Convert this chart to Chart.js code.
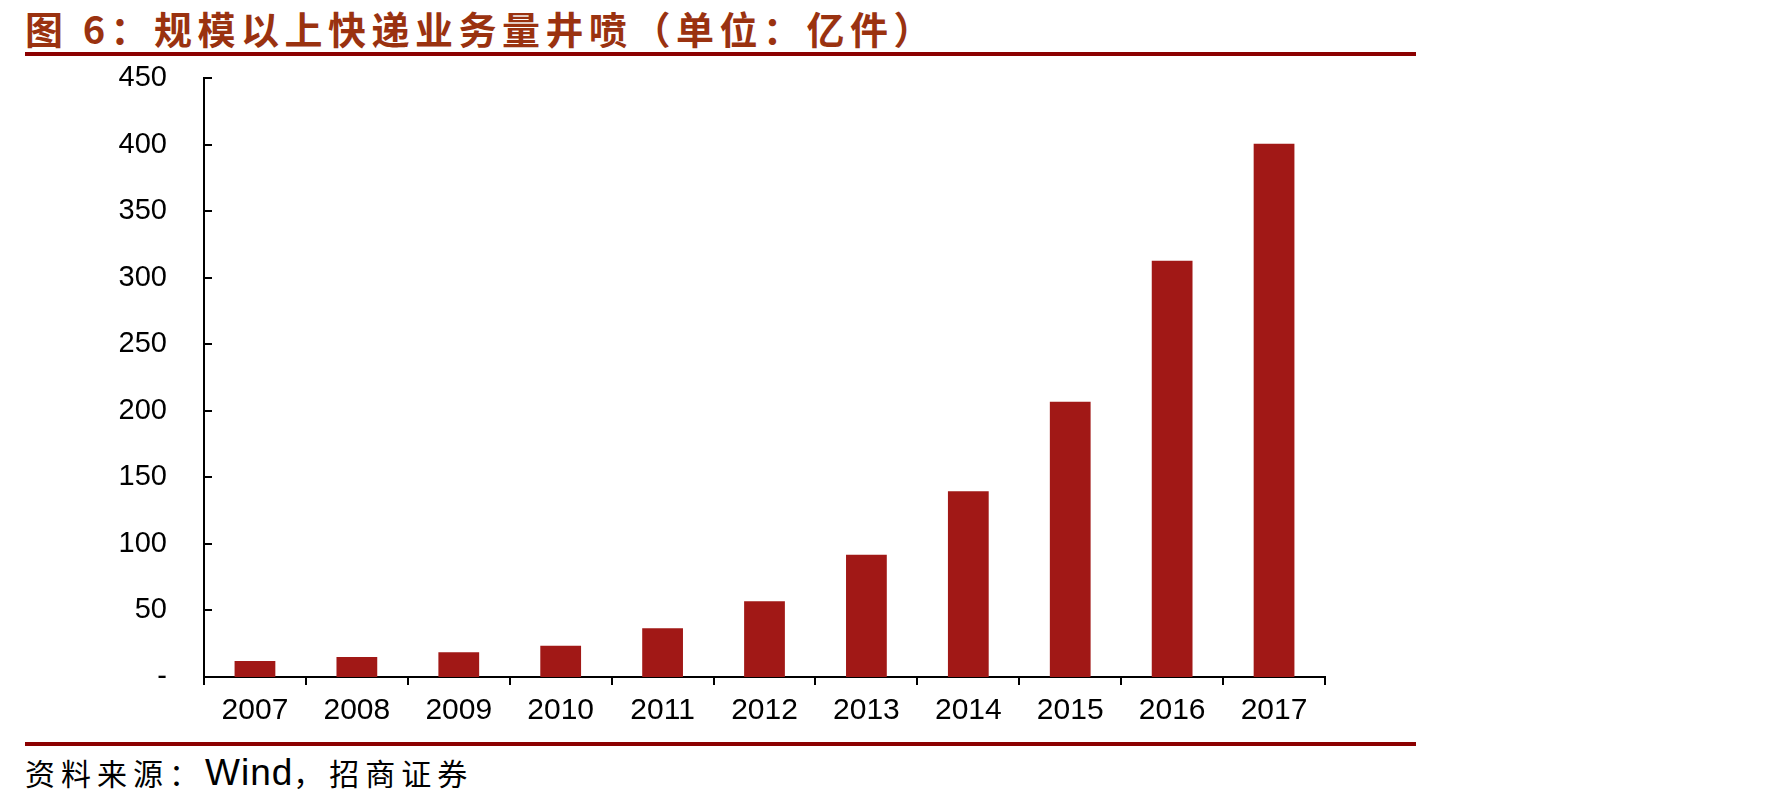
<!DOCTYPE html>
<html>
<head>
<meta charset="utf-8">
<script src="https://cdn.jsdelivr.net/npm/chart.js@4/dist/chart.umd.min.js"></script>
<style>
  body { margin: 0; background: #fff; }
  #page { position: relative; width: 1779px; height: 806px; overflow: hidden; }
  #title {
    position: absolute; left: 25px; top: 6px;
    font: bold 38px "Noto Sans CJK SC", sans-serif;
    letter-spacing: 5.5px; color: #9a3210; white-space: nowrap; line-height: 44px;
  }
  .rule { position: absolute; left: 25px; width: 1391px; height: 4px; background: #8b0000; }
  #source {
    position: absolute; left: 25px; top: 753px;
    font: 30px "Noto Sans CJK SC", sans-serif; letter-spacing: 6px;
    color: #000; white-space: nowrap; line-height: 38px;
  }
  #source .en { font-family: "Liberation Sans", Arial, sans-serif; font-size: 37px; letter-spacing: 1px; }
  #wrap { position: absolute; left: 0; top: 0; width: 1779px; height: 806px; }
</style>
</head>
<body>
<div id="page">
  <div id="title">图 6：规模以上快递业务量井喷（单位：亿件）</div>
  <div class="rule" style="top:52px"></div>
  <div class="rule" style="top:742px"></div>
  <div id="source">资料来源：<span class="en">Wind</span>，招商证券</div>
  <div id="wrap"><canvas id="chart"></canvas></div>
</div>
<script>
// 规模以上快递业务量（亿件）
const years = ['2007', '2008', '2009', '2010', '2011', '2012', '2013', '2014', '2015', '2016', '2017'];
const volume = [12.0, 15.1, 18.6, 23.4, 36.7, 56.9, 91.9, 139.6, 206.7, 312.8, 400.6];
const yMax = 450;
const yStep = 50;

// y 轴刻度朝内画
const innerTicks = {
    id: 'innerTicks',
    afterDraw(chart) {
        const ctx = chart.ctx;
        const y = chart.scales.y;
        ctx.save();
        ctx.strokeStyle = '#000';
        ctx.lineWidth = 2;
        y.ticks.forEach(t => {
            if (t.value === 0) return;
            const py = Math.round(y.getPixelForValue(t.value));
            ctx.beginPath();
            ctx.moveTo(y.right, py);
            ctx.lineTo(y.right + 8, py);
            ctx.stroke();
        });
        ctx.restore();
    }
};

const ctx = document.getElementById('chart').getContext('2d');
new Chart(ctx, {
    type: 'bar',
    data: {
        labels: years,
        datasets: [{
            data: volume,
            backgroundColor: '#a11816',
            borderWidth: 0,
            categoryPercentage: 1.0,
            barPercentage: 0.4
        }]
    },
    options: {
        responsive: true,
        maintainAspectRatio: false,
        animation: false,
        layout: { padding: { top: 78, right: 454, bottom: 69, left: 0 } },
        plugins: { legend: { display: false }, tooltip: { enabled: false } },
        scales: {
            x: {
                afterFit: s => { s.height = 60; },
                grid: { display: true, drawOnChartArea: false, drawTicks: true, tickLength: 8, color: '#000', lineWidth: 2, offset: true },
                border: { display: true, color: '#000', width: 2 },
                ticks: { color: '#000', padding: 8, font: { family: 'Liberation Sans', size: 30 } }
            },
            y: {
                min: 0,
                max: yMax,
                afterFit: s => { s.width = 204; },
                grid: { display: false, drawTicks: false },
                border: { display: true, color: '#000', width: 2 },
                ticks: {
                    stepSize: yStep,
                    color: '#000',
                    padding: 37,
                    font: { family: 'Liberation Sans', size: 29 },
                    callback: v => v === 0 ? '-' : v
                }
            }
        }
    },
    plugins: [innerTicks]
});
</script>
</body>
</html>
